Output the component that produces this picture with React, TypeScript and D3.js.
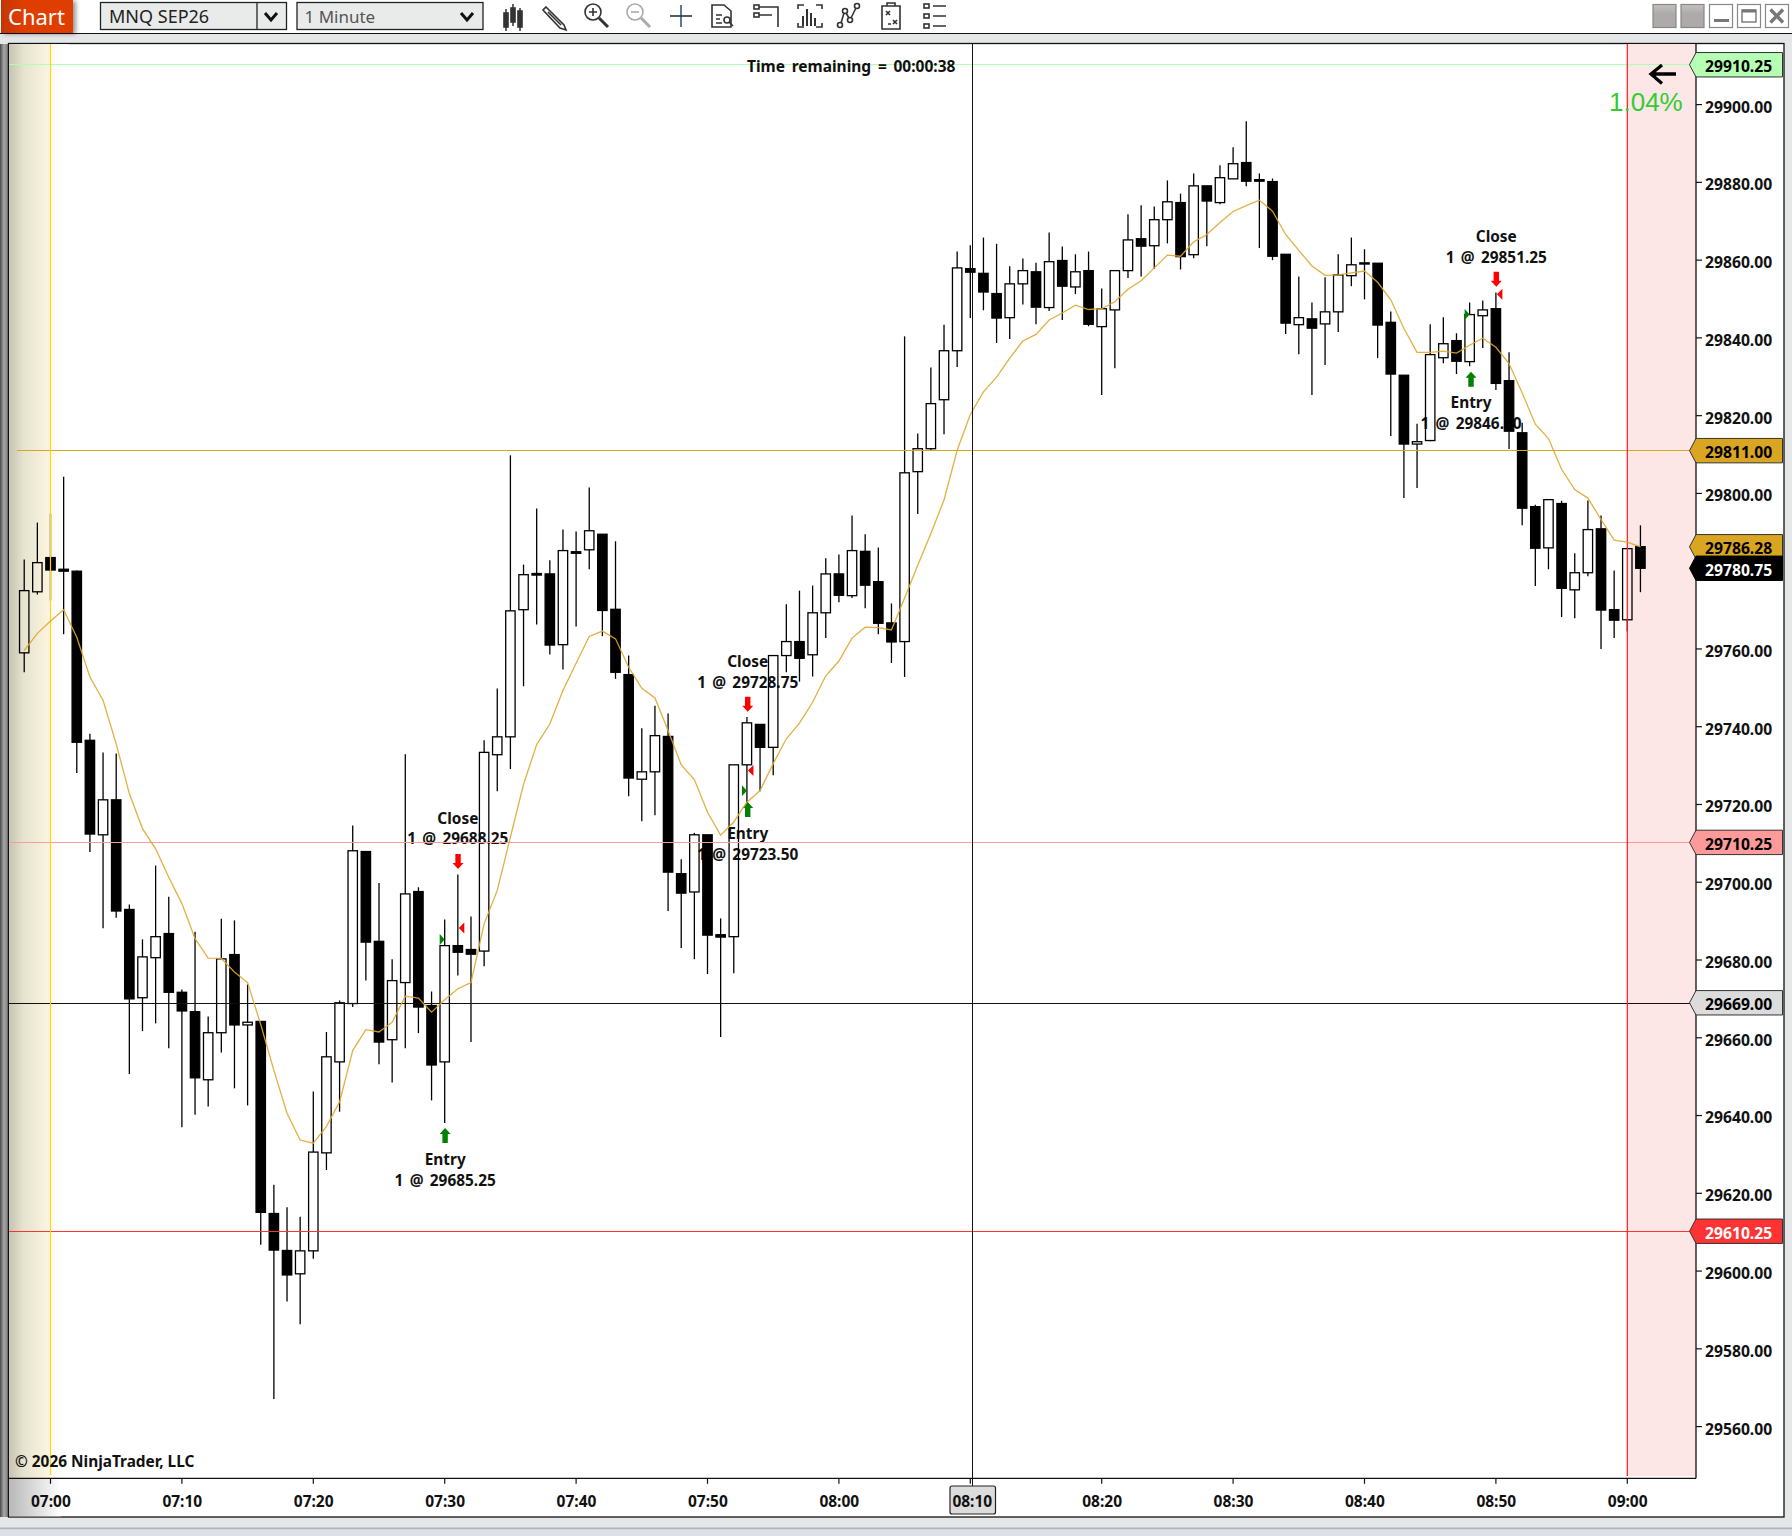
import React from "react";
import * as d3 from "d3";

// minute offset of the first bar relative to 07:00
const firstMinute = -2;
const opens = [29759.0,29774.7,29783.5,29780.5,29780.0,29736.5,29712.2,29721.2,29693.0,29670.3,29680.6,29686.8,29671.7,29666.7,29649.2,29661.3,29681.4,29663.3,29664.2,29614.8,29605.3,29599.3,29605.2,29630.4,29653.8,29668.8,29707.9,29684.8,29659.5,29674.2,29697.6,29668.3,29653.8,29683.7,29682.7,29682.3,29732.8,29737.4,29770.1,29779.4,29779.3,29761.1,29785.0,29785.5,29789.5,29770.2,29753.4,29726.5,29728.4,29737.5,29702.2,29697.5,29712.2,29686.5,29686.0,29730.2,29740.6,29734.7,29758.3,29761.9,29758.5,29769.3,29779.3,29773.7,29785.1,29777.3,29766.7,29761.9,29805.6,29811.5,29824.1,29836.7,29857.8,29856.6,29851.4,29845.2,29853.9,29857.0,29847.8,29859.9,29853.1,29857.3,29842.9,29847.2,29857.3,29865.5,29863.7,29870.4,29874.8,29861.4,29879.1,29874.8,29880.9,29885.1,29880.7,29880.2,29861.5,29843.4,29844.9,29843.6,29846.7,29856.0,29859.3,29859.2,29844.0,29830.4,29812.7,29813.6,29834.9,29839.3,29833.9,29845.7,29847.5,29829.0,29815.6,29796.6,29786.0,29797.4,29775.2,29779.6,29790.9,29770.1,29767.5,29786.3];
const highs = [29783.0,29792.5,29794.8,29804.3,29780.2,29738.2,29733.4,29733.1,29694.3,29685.3,29704.3,29696.3,29672.4,29687.3,29665.5,29690.6,29690.2,29673.7,29664.2,29622.2,29616.4,29614.0,29646.2,29661.5,29669.6,29714.6,29707.9,29699.8,29680.2,29732.9,29698.7,29671.9,29690.4,29702.0,29691.2,29736.5,29749.8,29809.8,29781.7,29796.1,29782.8,29790.7,29790.2,29801.5,29789.5,29787.7,29758.3,29739.6,29745.4,29743.4,29705.9,29712.7,29712.2,29690.7,29730.2,29742.5,29740.6,29758.3,29771.5,29775.0,29776.3,29783.3,29784.3,29794.3,29789.5,29786.1,29771.7,29840.4,29815.4,29832.4,29843.4,29862.2,29863.8,29865.8,29864.2,29858.4,29860.4,29859.3,29867.1,29863.5,29861.5,29862.2,29852.7,29857.3,29871.8,29874.1,29873.8,29880.5,29877.1,29882.3,29879.1,29884.4,29889.0,29895.7,29882.3,29881.0,29861.5,29855.8,29849.1,29855.6,29861.5,29865.8,29862.8,29859.2,29846.8,29830.4,29817.9,29843.5,29845.3,29841.2,29849.1,29849.6,29851.7,29836.3,29818.2,29797.1,29798.4,29798.1,29784.6,29798.2,29794.3,29780.2,29785.8,29791.8];
const lows = [29754.0,29774.0,29772.5,29763.8,29728.1,29707.8,29688.2,29690.9,29650.7,29661.7,29663.7,29657.3,29637.0,29640.2,29642.3,29656.2,29647.0,29642.6,29606.8,29567.1,29592.2,29586.3,29603.2,29626.0,29641.0,29667.9,29674.7,29653.2,29648.5,29657.3,29661.2,29643.9,29638.1,29676.0,29658.9,29678.4,29723.4,29729.1,29750.4,29766.3,29758.6,29754.7,29765.8,29780.5,29763.3,29752.3,29722.1,29715.7,29717.2,29692.6,29683.1,29680.2,29676.4,29660.2,29676.6,29720.3,29723.4,29727.5,29754.0,29751.6,29752.9,29762.8,29772.0,29773.1,29770.5,29763.8,29756.4,29752.8,29794.7,29811.1,29815.2,29832.5,29845.1,29847.1,29838.7,29839.7,29848.6,29843.5,29846.9,29844.6,29851.3,29843.0,29825.3,29832.2,29855.4,29855.8,29857.8,29864.3,29857.6,29860.5,29863.6,29874.4,29880.9,29879.0,29863.1,29860.0,29841.0,29835.8,29825.3,29833.0,29841.5,29853.3,29849.9,29834.8,29814.8,29798.8,29801.4,29813.4,29833.5,29830.7,29832.7,29837.4,29826.6,29811.4,29791.8,29776.2,29780.5,29768.2,29767.9,29778.7,29760.0,29762.8,29764.5,29774.6];
const closes = [29775.0,29782.2,29780.3,29780.0,29736.0,29712.4,29721.2,29692.6,29670.0,29680.8,29686.0,29671.7,29666.9,29649.7,29661.3,29680.3,29663.3,29664.0,29615.1,29605.4,29599.0,29605.2,29630.6,29655.1,29669.0,29708.1,29684.6,29658.9,29674.7,29697.0,29667.9,29653.0,29683.7,29682.0,29681.5,29733.4,29737.4,29769.8,29779.1,29779.0,29761.0,29785.3,29784.6,29790.4,29769.9,29754.0,29726.8,29728.4,29737.7,29702.6,29697.2,29712.2,29686.4,29685.9,29730.2,29741.0,29734.7,29758.3,29761.9,29757.6,29769.3,29779.3,29773.8,29785.3,29776.4,29766.6,29761.8,29805.3,29811.5,29823.1,29836.7,29858.0,29856.9,29851.8,29845.1,29853.9,29857.3,29847.9,29859.6,29853.3,29857.0,29843.5,29847.5,29857.3,29865.2,29863.6,29870.4,29875.0,29860.9,29879.1,29875.2,29881.2,29884.8,29880.3,29880.3,29861.0,29843.8,29845.2,29842.5,29846.7,29856.2,29858.8,29859.0,29843.3,29830.7,29812.7,29813.3,29835.7,29838.5,29834.0,29846.0,29847.2,29828.3,29816.0,29796.2,29785.9,29798.4,29775.6,29779.6,29790.7,29770.0,29767.4,29785.8,29780.75];
const ema = [29759.6,29764.0,29767.2,29770.1,29763.0,29752.8,29746.8,29735.6,29722.8,29713.8,29708.6,29701.3,29694.5,29685.5,29680.5,29680.4,29676.9,29674.2,29663.4,29651.6,29640.6,29633.7,29632.9,29637.2,29643.5,29656.7,29662.1,29661.5,29664.0,29670.7,29670.2,29666.6,29669.8,29672.6,29674.2,29689.3,29697.9,29711.6,29725.2,29735.4,29740.7,29749.3,29756.3,29763.2,29764.6,29762.6,29755.3,29749.9,29747.4,29739.0,29730.2,29726.4,29718.0,29712.1,29715.5,29720.6,29723.6,29730.5,29736.9,29740.9,29746.3,29753.1,29756.9,29762.8,29765.6,29765.5,29764.9,29773.1,29781.5,29789.7,29798.3,29811.1,29820.3,29826.1,29829.9,29834.8,29839.2,29840.9,29844.6,29846.4,29848.4,29847.3,29847.5,29849.3,29852.5,29854.7,29858.0,29861.3,29861.0,29864.7,29866.6,29869.7,29872.5,29874.0,29875.4,29872.6,29866.6,29862.5,29858.5,29856.1,29856.2,29856.7,29857.2,29854.3,29849.8,29842.4,29836.3,29836.3,29836.6,29836.1,29838.1,29839.9,29837.6,29833.4,29825.8,29817.8,29814.1,29806.2,29801.0,29798.8,29793.3,29788.0,29787.5,29786.28];

const priceTicks = [29900,29880,29860,29840,29820,29800,29780,29760,29740,29720,29700,29680,29660,29640,29620,29600,29580,29560];
const timeTicks = [0,10,20,30,40,50,60,70,80,90,100,110,120];
const timeLabels = ["07:00","07:10","07:20","07:30","07:40","07:50","08:00","08:10","08:20","08:30","08:40","08:50","09:00"];
const crosshairMinute = 70;
const crosshairPrice = 29669;

const levelPrices = [29910.25,29811,29710.25,29669,29610.25];
const levelColors = ["#b0ffb0","#daa520","#ff9a9a","#111111","#ff3333"];

const tradeMinutes = [30,53,108];
const exitMinutes = [31,53,110];
const entryPrices = [29685.25,29723.5,29846.0];
const exitPrices = [29688.25,29728.75,29851.25];

const FONT = "'Noto Sans', sans-serif";
const xScale = d3.scaleLinear().domain([0,120]).range([50.5,1627.3]);
const yScale = d3.scaleLinear().domain([29900,29560]).range([104.6,1426.6]);
const fmt = d3.format(".2f");

const PriceTag = ({price, fill, color="#000", text, edge="#333"}: any) => {
  const cy = yScale(price);
  return (
    <g>
      <polygon points={`1689.5,${cy} 1696,${cy-12.2} 1782.5,${cy-12.2} 1782.5,${cy+12.2} 1696,${cy+12.2}`} fill={fill} stroke={edge} strokeWidth={1}/>
      <text x={1705} y={cy+7.6} fontSize={15.7} fontWeight={700} fontFamily={FONT} fill={color}>{text ?? fmt(price)}</text>
    </g>
  );
};

const ArrowUp = ({x, top}: any) => (
  <path d={`M${x} ${top} L${x+5.5} ${top+6} L${x+2.7} ${top+6} L${x+2.7} ${top+15} L${x-2.7} ${top+15} L${x-2.7} ${top+6} L${x-5.5} ${top+6} Z`} fill="#008000"/>
);
const ArrowDown = ({x, top}: any) => (
  <path d={`M${x} ${top+15} L${x+5.5} ${top+9} L${x+2.7} ${top+9} L${x+2.7} ${top} L${x-2.7} ${top} L${x-2.7} ${top+9} L${x-5.5} ${top+9} Z`} fill="#ff0000"/>
);
const TwoLine = ({x, y1, y2, a, b}: any) => (
  <g fontFamily={FONT} fontWeight={700} fontSize={15.4} textAnchor="middle" fill="#111">
    <text x={x} y={y1}>{a}</text>
    <text x={x} y={y2} wordSpacing={2.3}>{b}</text>
  </g>
);

const Icons = () => (
  <g fill="none" stroke="#333" strokeWidth={1.6}>
    <g stroke="#333">
      <path d="M506 9V31M513 4V26M520 8V31" strokeWidth={1.5}/>
      <rect x={504} y={13} width={4} height={14} fill="#333"/><rect x={511} y={8} width={4} height={14} fill="#333"/><rect x={518} y={11} width={4} height={16} fill="#333"/>
    </g>
    <path d="M546 7L564 25L566 30L560 28L543 10Z" strokeWidth={1.6}/><path d="M548 12L561 25" />
    <circle cx={593} cy={12} r={8}/><path d="M589 12H597M593 8V16"/><path d="M599 18L608 27" strokeWidth={3}/>
    <g stroke="#aaa"><circle cx={635} cy={12} r={8}/><path d="M631 12H639"/><path d="M641 18L650 27" strokeWidth={3}/></g>
    <path d="M681 5V27" stroke="#2a5a8a"/><path d="M670 16H692"/>
    <path d="M712 5H724L731 11V27H712Z"/><path d="M716 15H722M716 19H720M716 23H722"/><circle cx={727} cy={20} r={3}/><path d="M729 22L733 26"/>
    <rect x={754} y={5} width={5} height={4}/><rect x={754} y={13} width={5} height={4}/><path d="M759 7H778V27M759 15H772"/>
    <path d="M798 9V5H804M816 5H822V9M798 23V27H804M816 27H822V23"/><path d="M803 26V16M807 26V9M811 26V13M815 26V18" strokeWidth={2}/>
    <circle cx={840} cy={25} r={2.5}/><circle cx={845} cy={11} r={2.5}/><circle cx={850} cy={20} r={2.5}/><circle cx={857} cy={6} r={2.5}/><path d="M841 23L844 13M846 13L849 18M851 18L856 8"/>
    <path d="M882 6H900V29H882Z"/><path d="M887 6V3H895V6"/><path d="M886 11L890 15M890 11L886 15M893 20L897 24M897 20L893 24M888 24H891"/>
    <rect x={924} y={4} width={5} height={4}/><rect x={924} y={14} width={5} height={4}/><rect x={924} y={24} width={5} height={4}/><path d="M933 6H946M933 16H946M933 26H946"/>
  </g>
);

const WinButtons = () => {
  const xs = [1653,1681,1709.5,1737.5,1765.5];
  return (
    <g>
      {xs.map((x,i)=>(
        <rect key={i} x={x} y={4.5} width={23} height={23} fill={i<2?"url(#btn)":"#fff"} stroke="#888" strokeWidth={1.2}/>
      ))}
      <path d="M1714 20.5H1729" stroke="#777" strokeWidth={3}/>
      <rect x={1742} y={10} width={14} height={12} fill="none" stroke="#777" strokeWidth={1.4}/><path d="M1742 11H1756" stroke="#777" strokeWidth={3}/>
      <path d="M1770.5 9.5L1783 22.5M1783 9.5L1770.5 22.5" stroke="#777" strokeWidth={3.4}/>
    </g>
  );
};

export default function App() {
  const n = opens.length;
  const bars = d3.range(n).map(i => ({t:firstMinute+i,o:opens[i],h:highs[i],l:lows[i],c:closes[i]}));
  const line = d3.line<number>().x((_,i)=>xScale(firstMinute+i)).y(d=>yScale(d)).curve(d3.curveLinear);
  const plotL = 9, plotR = 1696, plotB = 1478.3;
  const hw = 4.7;
  return (
    <svg width={1792} height={1536} viewBox="0 0 1792 1536" style={{position:"absolute",left:0,top:0,display:"block"}}>
      <defs>
        <linearGradient id="sess" x1="0" x2="1" y1="0" y2="0">
          <stop offset="0" stopColor="#c6c4b2"/><stop offset="0.35" stopColor="#e6e3cf"/><stop offset="1" stopColor="#fdf6e1"/>
        </linearGradient>
        <linearGradient id="sess2" x1="0" x2="1" y1="0" y2="0">
          <stop offset="0" stopColor="#fbfbf3"/><stop offset="1" stopColor="#ffffff"/>
        </linearGradient>
        <linearGradient id="axisfade" x1="0" x2="1" y1="0" y2="0">
          <stop offset="0" stopColor="#b8b8b8"/><stop offset="1" stopColor="#ffffff"/>
        </linearGradient>
        <linearGradient id="edge" x1="0" x2="1" y1="0" y2="0">
          <stop offset="0" stopColor="#4a4a4a"/><stop offset="0.5" stopColor="#a8a8a8"/><stop offset="1" stopColor="#7a7a7a"/>
        </linearGradient>
        <linearGradient id="tab" x1="0" x2="1" y1="0" y2="0">
          <stop offset="0" stopColor="#c23600"/><stop offset="0.3" stopColor="#e03c00"/><stop offset="1" stopColor="#e03c00"/>
        </linearGradient>
        <linearGradient id="btn" x1="0" x2="0" y1="0" y2="1">
          <stop offset="0" stopColor="#c4c2c2"/><stop offset="0.4" stopColor="#aeaaaa"/><stop offset="1" stopColor="#aeaaaa"/>
        </linearGradient>
        <filter id="tabShadow" x="-20%" y="-20%" width="140%" height="140%"><feDropShadow dx={3} dy={1} stdDeviation={2} floodColor="#000" floodOpacity={0.4}/></filter>
      </defs>

      <rect x={0} y={0} width={1792} height={1536} fill="#e4e6e8"/>
      <rect x={0} y={0} width={1792} height={33} fill="#ffffff"/>
      <rect x={0} y={44} width={8} height={1473} fill="url(#edge)"/>
      <rect x={0} y={1517} width={1792} height={11} fill="#e4e6e8"/>
      <rect x={0} y={1527.5} width={1792} height={2} fill="#b4b4b8"/>
      <rect x={0} y={1529.5} width={1792} height={7} fill="#dcdfe7"/>
      <path d="M0 33.5H1792" stroke="#111" strokeWidth={1.2}/>
      <rect x={1} y={0} width={72} height={33} fill="url(#tab)" filter="url(#tabShadow)"/>
      <text x={8} y={24.5} fontSize={22} fill="#fff" fontFamily={FONT}>Chart</text>

      <g stroke="#222" strokeWidth={1.3} fill="#e9ebea">
        <rect x={100.5} y={2.5} width={186} height={27}/>
        <path d="M257 2.5V29.5"/>
        <rect x={297} y={2.5} width={186} height={27}/>
      </g>
      <text x={109} y={22.5} fontSize={18} fill="#222" fontFamily={FONT}>MNQ SEP26</text>
      <text x={304.5} y={22.5} fontSize={17} fill="#555" fontFamily={FONT}>1 Minute</text>
      <path d="M265 13L271 20L277 13" fill="none" stroke="#111" strokeWidth={3}/>
      <path d="M461 13L467 20L473 13" fill="none" stroke="#111" strokeWidth={3}/>
      <Icons/>
      <WinButtons/>

      <rect x={8.5} y={43.5} width={1775.5} height={1473.5} fill="#ffffff" stroke="#111" strokeWidth={1.3}/>
      <rect x={9.2} y={44.2} width={41.3} height={1434} fill="url(#sess)"/>
      <rect x={50.5} y={44.2} width={18} height={1434} fill="url(#sess2)"/>
      <rect x={9.2} y={1479} width={52} height={37.3} fill="url(#axisfade)"/>
      <rect x={xScale(120)} y={44.2} width={plotR-xScale(120)} height={1432} fill="#fde6e6"/>

      <g>
        <ArrowUp x={xScale(tradeMinutes[0])+0.4} top={1128}/>
        <TwoLine x={xScale(tradeMinutes[0])+0.5} y1={1165} y2={1185.6} a="Entry" b={`1 @ ${fmt(entryPrices[0])}`}/>
        <ArrowDown x={xScale(exitMinutes[0])+0.2} top={854}/>
        <TwoLine x={xScale(exitMinutes[0])} y1={824} y2={844} a="Close" b={`1 @ ${fmt(exitPrices[0])}`}/>
        <ArrowUp x={xScale(tradeMinutes[1])+0.8} top={802}/>
        <TwoLine x={xScale(tradeMinutes[1])+0.8} y1={839.3} y2={860} a="Entry" b={`1 @ ${fmt(entryPrices[1])}`}/>
        <ArrowDown x={xScale(exitMinutes[1])+0.8} top={696.7}/>
        <TwoLine x={xScale(exitMinutes[1])+0.8} y1={667} y2={688.3} a="Close" b={`1 @ ${fmt(exitPrices[1])}`}/>
        <ArrowUp x={xScale(tradeMinutes[2])+1.4} top={371.7}/>
        <TwoLine x={xScale(tradeMinutes[2])+1.4} y1={408} y2={429} a="Entry" b={`1 @ ${fmt(entryPrices[2])}`}/>
        <ArrowDown x={xScale(exitMinutes[2])+0.4} top={271.7}/>
        <TwoLine x={xScale(exitMinutes[2])+0.4} y1={242.3} y2={263.3} a="Close" b={`1 @ ${fmt(exitPrices[2])}`}/>
      </g>

      <g stroke="#000" strokeWidth={1.3}>
        {bars.map(b=>{
          const x = xScale(b.t);
          const up = b.c >= b.o;
          const top = yScale(Math.max(b.o,b.c));
          const bot = yScale(Math.min(b.o,b.c));
          return (
            <g key={b.t}>
              <line x1={x} x2={x} y1={yScale(b.h)} y2={top}/>
              <line x1={x} x2={x} y1={bot} y2={yScale(b.l)}/>
              <rect x={x-hw} y={top} width={hw*2} height={Math.max(bot-top,1)} fill={up?"none":"#000"}/>
            </g>
          );
        })}
      </g>

      {tradeMinutes.map((t,i)=>{
        const x=xScale(t), y=yScale(entryPrices[i]);
        return <path key={i} d={`M${x-5} ${y-5.5} L${x} ${y} L${x-5} ${y+5.5} Z`} fill="#008000"/>;
      })}
      {exitMinutes.map((t,i)=>{
        const x=xScale(t), y=yScale(exitPrices[i]);
        return <path key={i} d={`M${x+6.5} ${y-5.5} L${x+1} ${y} L${x+6.5} ${y+5.5} Z`} fill="#ff0000"/>;
      })}

      {levelPrices.map((p,i)=>{
        const y = p===crosshairPrice ? yScale(p)+0.7 : yScale(p);
        return <line key={p} x1={i===1?17:plotL} x2={1690} y1={y} y2={y} stroke={levelColors[i]} strokeWidth={1} shapeRendering="crispEdges"/>;
      })}

      <line x1={xScale(0)} x2={xScale(0)} y1={44} y2={1475} stroke="#ffd21e" strokeWidth={1.2}/>
      <line x1={xScale(120)} x2={xScale(120)} y1={44} y2={1476} stroke="#ff1a1a" strokeWidth={1.2}/>

      <path d={line(ema) as string} fill="none" stroke="#e0a62e" strokeWidth={1.3} strokeOpacity={0.9}/>

      <line x1={xScale(crosshairMinute)+2} x2={xScale(crosshairMinute)+2} y1={44} y2={1486} stroke="#111" strokeWidth={1} shapeRendering="crispEdges"/>

      <path d={`M${plotL} ${plotB}H${plotR}M${plotR} 44V${plotB}`} fill="none" stroke="#111" strokeWidth={1.3}/>
      {priceTicks.map(p=>(
        <g key={p}>
          <line x1={plotR} x2={plotR+6} y1={yScale(p)} y2={yScale(p)} stroke="#111" strokeWidth={1.2}/>
          <text x={1705} y={yScale(p)+7.9} fontSize={15.7} fontWeight={700} fontFamily={FONT} fill="#111">{fmt(p)}</text>
        </g>
      ))}
      {timeTicks.map((t,i)=>(
        <g key={t}>
          <line x1={xScale(t)} x2={xScale(t)} y1={plotB} y2={plotB+5.5} stroke="#111" strokeWidth={1.2}/>
          {t===crosshairMinute && <rect x={950} y={1486} width={45.5} height={28} rx={2} fill="#dcdcdc" stroke="#222" strokeWidth={1.2}/>}
          <text x={t===crosshairMinute?xScale(t)+2:xScale(t)+0.4} y={1506.7} textAnchor="middle" fontSize={15.5} fontWeight={700} fontFamily={FONT} fill="#111">{timeLabels[i]}</text>
        </g>
      ))}

      <PriceTag price={levelPrices[0]} fill="#b4ffb4"/>
      <PriceTag price={levelPrices[1]} fill="#daa520"/>
      <PriceTag price={ema[ema.length-1]} fill="#daa520"/>
      <PriceTag price={closes[closes.length-1]} fill="#000" color="#fff" edge="#000"/>
      <PriceTag price={levelPrices[2]} fill="#ff9a9a"/>
      <PriceTag price={crosshairPrice} fill="#dcdcdc"/>
      <PriceTag price={levelPrices[4]} fill="#ff3333" color="#fff"/>

      <text x={747} y={72} fontSize={15.5} fontWeight={700} fontFamily={FONT} fill="#111" wordSpacing={2.7}>Time remaining = 00:00:38</text>
      <text x={15} y={1467} fontSize={15.4} fontWeight={700} fontFamily={FONT} fill="#111">© 2026 NinjaTrader, LLC</text>
      <text x={1609} y={110.7} fontSize={26} fontFamily="'Liberation Sans', sans-serif" fill="#32cd32">1.04%</text>
      <path d="M1676 74H1651M1662 65L1651 74L1662 83.5" fill="none" stroke="#000" strokeWidth={3.3}/>
    </svg>
  );
}
